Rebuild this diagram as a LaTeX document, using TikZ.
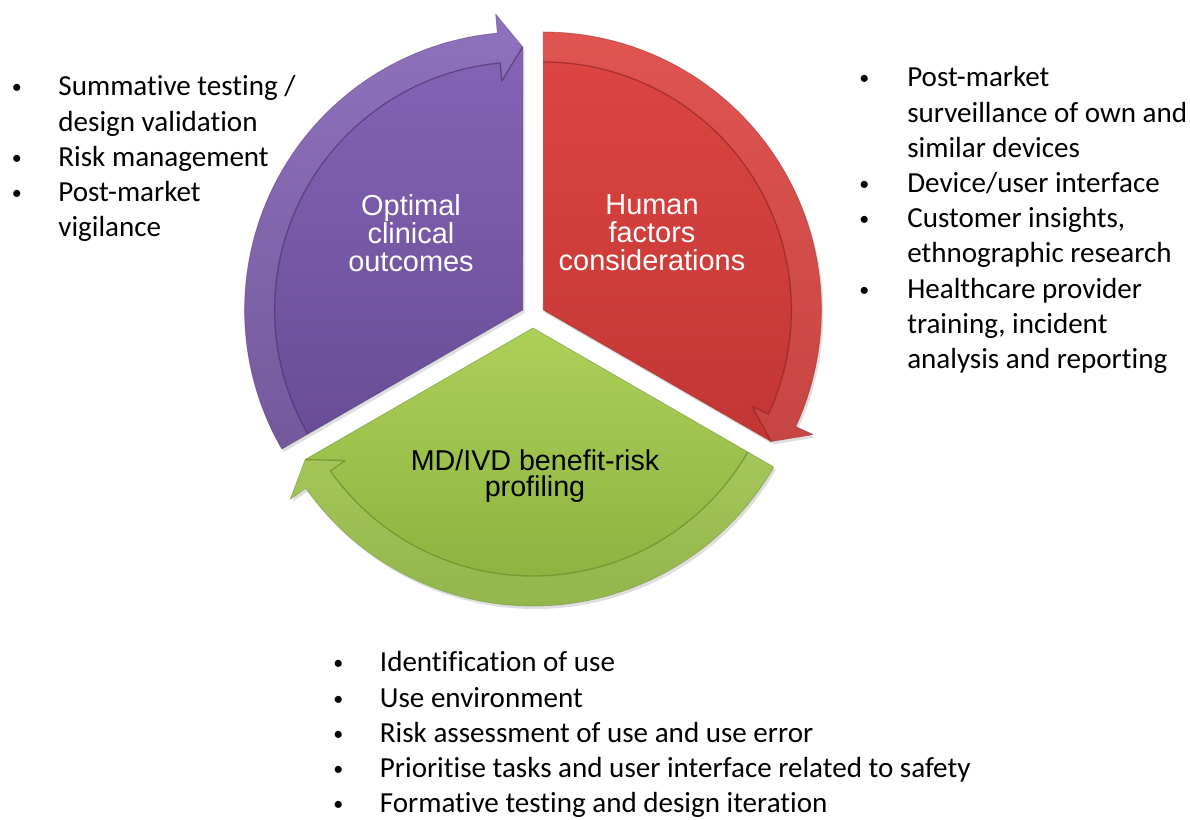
\documentclass[tikz,border=0pt]{standalone}
\usepackage{fontspec}
\setmainfont{Carlito}[Ligatures=NoCommon]
\newfontfamily\arialfont{Liberation Sans}
\usetikzlibrary{calc}

\definecolor{purplehi}{RGB}{134,102,184}
\definecolor{purplelo}{RGB}{104,76,148}
\definecolor{purpleedge}{RGB}{78,52,116}
\definecolor{redhi}{RGB}{222,70,66}
\definecolor{redlo}{RGB}{194,54,52}
\definecolor{rededge}{RGB}{150,36,34}
\definecolor{greenhi}{RGB}{172,208,88}
\definecolor{greenlo}{RGB}{138,176,62}
\definecolor{greenedge}{RGB}{104,140,40}

\newcommand{\listdot}{\raisebox{1.5pt}{\fontsize{15}{15}\selectfont\textbullet}}

\begin{document}
\begin{tikzpicture}[x=0.75pt,y=0.75pt,
  piecelabel/.style={font=\arialfont\fontsize{21.7}{21}\selectfont, align=center, text=white},
  bulletlist/.style={anchor=north west, inner sep=0pt, font=\fontsize{21.8}{26.4}\selectfont}]

\useasboundingbox (0,0) rectangle (1190,819);

% three pieces of the cycle: bisector angle, light and dark shade, rim line
\foreach \bis/\hi/\lo/\rim in {150/purplehi/purplelo/purpleedge,
                               30/redhi/redlo/rededge,
                               270/greenhi/greenlo/greenedge} {
\begin{scope}[shift={(533,503)}, shift={(\bis:12)}]
% soft shadow
\fill[black, opacity=0.13, shift={(2,-3)}] (0,0) -- (\bis+60:278)
  arc[start angle=\bis+60, end angle=\bis-54.8, radius=278]
  -- (\bis-54.8:297) -- (\bis-60:263) -- cycle;
% the piece itself
\shade[top color=\hi, bottom color=\lo] (0,0) -- (\bis+60:278)
  arc[start angle=\bis+60, end angle=\bis-54.8, radius=278]
  -- (\bis-54.8:297) -- (\bis-60:263) -- cycle;
\draw[\rim, opacity=0.5, line width=0.6, line join=round] (0,0) -- (\bis+60:278)
  arc[start angle=\bis+60, end angle=\bis-54.8, radius=278]
  -- (\bis-54.8:297) -- (\bis-60:263) -- cycle;
% raised rim ending in the arrow head
\fill[white, opacity=0.08] (\bis+60:248) -- (\bis+60:278)
  arc[start angle=\bis+60, end angle=\bis-54.8, radius=278]
  -- (\bis-54.8:297) -- (\bis-60:263) -- (\bis-54.8:230) -- (\bis-54.8:248)
  arc[start angle=\bis-54.8, end angle=\bis+60, radius=248] -- cycle;
\draw[\rim, opacity=0.7, line width=1, line join=round] (\bis+60:248)
  arc[start angle=\bis+60, end angle=\bis-54.8, radius=248]
  -- (\bis-54.8:230) -- (\bis-60:263);
\end{scope}
}

% labels of the pieces
\node[piecelabel] (optimal) at (411,586) {Optimal\\clinical\\outcomes};
\node[piecelabel] (human) at (652,586) {Human\\factors\\considerations};
\node[piecelabel, text=black, font=\arialfont\fontsize{21.5}{19.5}\selectfont]
  (profiling) at (535,343) {MD/IVD benefit-risk\\profiling};

% lists of activities
\node[bulletlist] (testing) at (11.5,748) {\begin{tabular}{@{}p{35pt}@{}l@{}}
\listdot & Summative testing /\\
         & design validation\\
\listdot & Risk management\\
\listdot & Post-market\\
         & vigilance
\end{tabular}};

\node[bulletlist] (surveillance) at (859,757) {\begin{tabular}{@{}p{36pt}@{}l@{}}
\listdot & Post-market\\
         & surveillance of own and\\
         & similar devices\\
\listdot & Device/user interface\\
\listdot & Customer insights,\\
         & ethnographic research\\
\listdot & Healthcare provider\\
         & training, incident\\
         & analysis and reporting
\end{tabular}};

\node[bulletlist] (usage) at (333,172) {\begin{tabular}{@{}p{35pt}@{}l@{}}
\listdot & Identification of use\\
\listdot & Use environment\\
\listdot & Risk assessment of use and use error\\
\listdot & Prioritise tasks and user interface related to safety\\
\listdot & Formative testing and design iteration
\end{tabular}};

\end{tikzpicture}
\end{document}
